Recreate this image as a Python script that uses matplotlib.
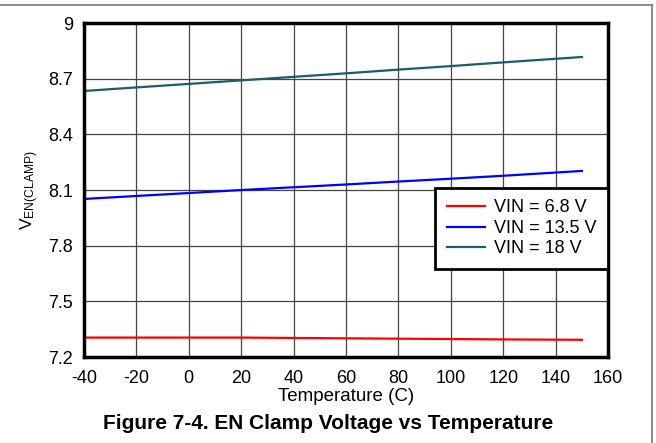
import matplotlib
matplotlib.use('Agg')
import matplotlib.pyplot as plt
from matplotlib.lines import Line2D

plt.rcParams['font.family'] = ['Liberation Sans', 'DejaVu Sans']
plt.rcParams['mathtext.default'] = 'regular'
plt.rcParams['axes.unicode_minus'] = False

# temperature points (C)
temps = [-40, -20, 0, 20, 40, 60, 80, 100, 120, 150]

# EN clamp voltage per VIN
v_6p8 = [7.305, 7.305, 7.305, 7.305, 7.303, 7.301, 7.299, 7.297, 7.295, 7.293]
v_13p5 = [8.052, 8.068, 8.084, 8.100, 8.115, 8.130, 8.146, 8.161, 8.177, 8.203]
v_18 = [8.634, 8.653, 8.672, 8.691, 8.710, 8.729, 8.749, 8.768, 8.788, 8.817]

labels = ['VIN = 6.8 V', 'VIN = 13.5 V', 'VIN = 18 V']
colors = ['#ff0000', '#0000ff', '#1d5c68']

xticks = [-40, -20, 0, 20, 40, 60, 80, 100, 120, 140, 160]
yticks = [7.2, 7.5, 7.8, 8.1, 8.4, 8.7, 9.0]
ytick_labels = ['7.2', '7.5', '7.8', '8.1', '8.4', '8.7', '9']

fig = plt.figure(figsize=(6.56, 4.43), dpi=100)
ax = fig.add_axes([0.128, 0.194, 0.799, 0.754])

for vals, lab, c in zip([v_6p8, v_13p5, v_18], labels, colors):
    ax.plot(temps, vals, color=c, lw=1.6, label=lab)

ax.set_xlim(-40, 160)
ax.set_ylim(7.2, 9.0)
ax.set_xticks(xticks)
ax.set_yticks(yticks)
ax.set_yticklabels(ytick_labels)
ax.tick_params(length=0, labelsize=13)
ax.tick_params(axis='x', pad=9)
ax.tick_params(axis='y', pad=8)
ax.grid(True, color='#444444', lw=0.9)
ax.set_axisbelow(True)
for s in ax.spines.values():
    s.set_linewidth(2.5)
    s.set_color('black')

ax.set_xlabel('Temperature (C)', fontsize=13.5, labelpad=1)
ax.set_ylabel(r'V$_{EN(CLAMP)}$', fontsize=12.5, labelpad=5)

leg = ax.legend(loc='lower right', bbox_to_anchor=(1.0, 0.263), fontsize=13,
                frameon=True, fancybox=False, borderpad=0.65, labelspacing=0.2,
                handlelength=2.1, handletextpad=0.5, borderaxespad=0)
leg.get_frame().set_edgecolor('black')
leg.get_frame().set_linewidth(2.0)
leg.get_frame().set_alpha(1)

fig.text(0.5, 0.044, 'Figure 7-4. EN Clamp Voltage vs Temperature',
         ha='center', va='center', fontsize=15, fontweight='bold')

# outer frame (top and right edges)
fig.add_artist(Line2D([0, 0.994], [0.989, 0.989], color='#777777', lw=1.2,
                      transform=fig.transFigure))
fig.add_artist(Line2D([0.994, 0.994], [0, 0.989], color='#777777', lw=1.2,
                      transform=fig.transFigure))

fig.savefig('out.png', dpi=100)
